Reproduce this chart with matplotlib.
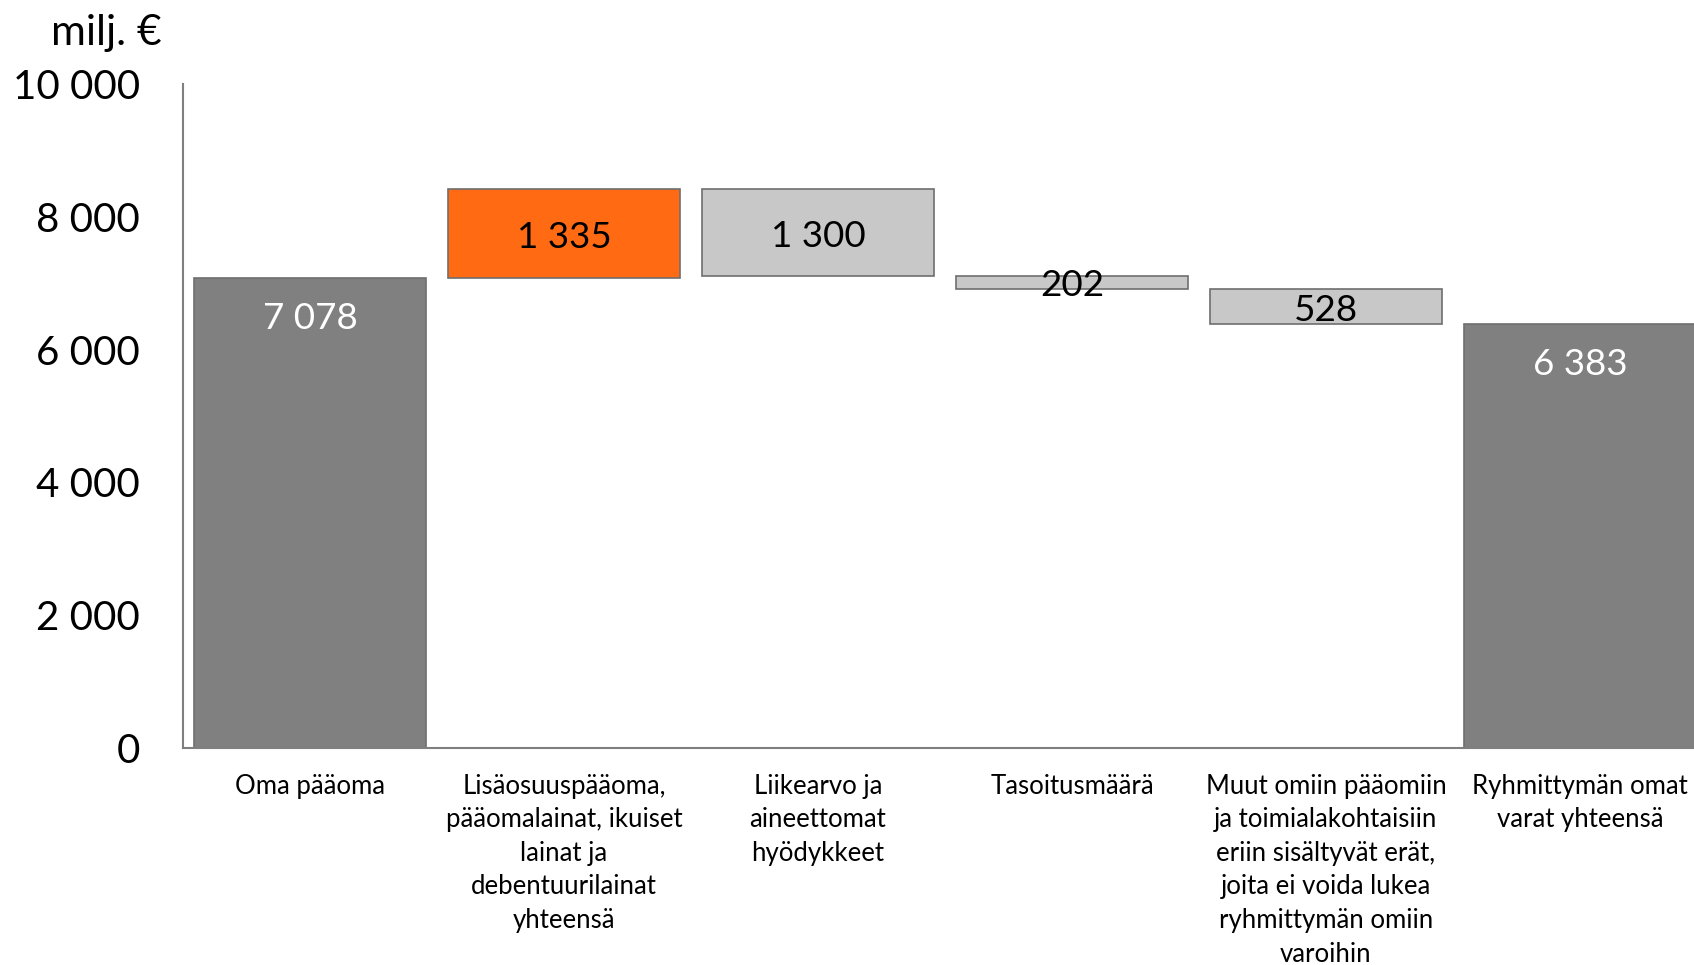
import matplotlib
import matplotlib.pyplot as plt
import numpy as np
matplotlib.use('Agg')

categories = ['Oma pääoma',
              'Lisäosuuspääoma,\npääomalainat, ikuiset\nlainat ja\ndebentuurilainat\nyhteensä',
              'Liikearvo ja\naineettomat\nhyödykkeet',
              'Tasoitusmäärä',
              'Muut omiin pääomiin\nja toimialakohtaisiin\neriin sisältyvät erät,\njoita ei voida lukea\nryhmittymän omiin\nvaroihin',
              'Ryhmittymän omat\nvarat yhteensä']
values = [7078, 1335, -1300, -202, -528, 6383]
kinds = ['total', 'up', 'down', 'down', 'down', 'total']
yticks = [0, 2000, 4000, 6000, 8000, 10000]

colors = {'total': '#808080', 'up': '#FF6A13', 'down': '#C8C8C8'}
textcol = {'total': 'white', 'up': 'black', 'down': 'black'}

plt.rcParams['font.family'] = ['Lato', 'DejaVu Sans']

fig = plt.figure(figsize=(16.94, 9.65), dpi=100)
ax = fig.add_axes([183 / 1694, 217 / 965, 1524 / 1694, 664 / 965])

running = 0
x = np.arange(len(values))
for i, (v, k) in enumerate(zip(values, kinds)):
    if k == 'total':
        bottom, height = 0, v
        running = v
    else:
        bottom = running if v > 0 else running + v
        height = abs(v)
        running += v
    ax.bar(x[i], height, bottom=bottom, width=0.913, color=colors[k],
           edgecolor='#6E6E6E', linewidth=1.2)
    label = f'{abs(v):,}'.replace(',', ' ')
    if k == 'total':
        ax.annotate(label, (x[i], bottom + height), xytext=(0, -29),
                    textcoords='offset points', ha='center', va='center',
                    fontsize=26.5, color=textcol[k])
    else:
        ax.annotate(label, (x[i], bottom + height / 2), xytext=(0, -2.5),
                    textcoords='offset points', ha='center', va='center',
                    fontsize=26.5, color=textcol[k])

ax.set_xlim(-0.5, len(values) - 0.5)
ax.set_ylim(0, 10000)
ax.set_yticks(yticks)
ax.set_yticklabels([f'{t:,}'.replace(',', ' ') for t in yticks], fontsize=29)
ax.set_xticks(x)
ax.set_xticklabels(categories, fontsize=18.5, linespacing=1.43, va='top')
ax.tick_params(axis='y', length=0, pad=31)
ax.tick_params(axis='x', length=0, pad=18.5)
for s in ['top', 'right']:
    ax.spines[s].set_visible(False)
for s in ['left', 'bottom']:
    ax.spines[s].set_color('#7F7F7F')
    ax.spines[s].set_linewidth(1.5)

fig.text(106 / 1694, 1 - 33 / 965, 'milj. €', ha='center', va='center', fontsize=30.5)

fig.savefig('out.png', dpi=100)
